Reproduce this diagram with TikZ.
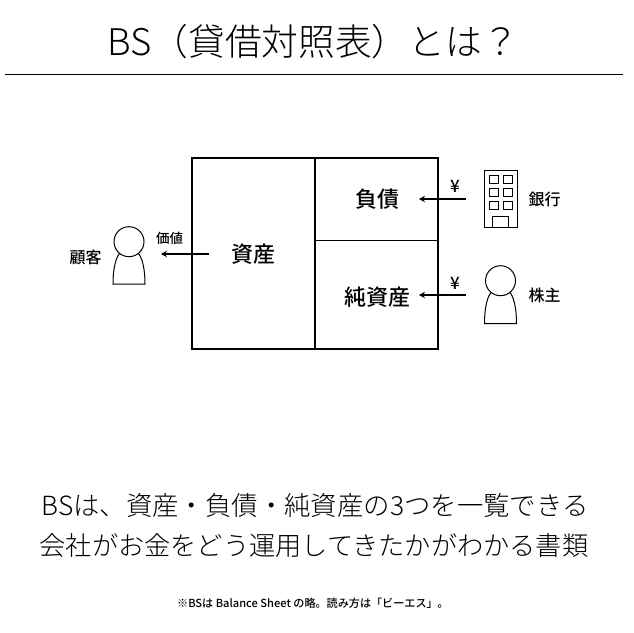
\documentclass[tikz,border=0pt]{standalone}
\usepackage{fontspec}
\setmainfont{Noto Sans CJK JP Medium}
\newfontfamily\lightfont{Noto Sans CJK JP Light}
\usetikzlibrary{positioning, arrows.meta}

\begin{document}
\begin{tikzpicture}[
    x=1pt, y=-1pt,
    box/.style={draw, line width=1.7pt, rectangle, inner sep=0pt, outer sep=0pt, anchor=north west},
    item/.style={inner sep=0pt, font=\fontsize{22}{22}\selectfont},
    lbl/.style={inner sep=0pt, font=\fontsize{16}{16}\selectfont},
    yen/.style={inner sep=0pt, font=\fontsize{17}{17}\selectfont},
    person/.style={draw, line width=1pt, circle, minimum size=30pt, inner sep=0pt, fill=white},
    window/.style={draw, line width=0.8pt, rectangle, minimum width=8.5pt, minimum height=8.5pt, inner sep=0pt},
    arrow/.style={line width=1.1pt,-{Stealth[length=6pt,width=6.5pt,inset=2pt]}}
]
\useasboundingbox (0,0) rectangle (634,632);

\node (title) [inner sep=0pt, font=\lightfont\fontsize{36.7}{36.7}\selectfont] at (313,42) {BS（貸借対照表）とは？};
\coordinate (ruleL) at (5,74);
\coordinate (ruleR) at (623,74);
\draw[line width=1pt] (ruleL) -- (ruleR);

% balance sheet
\node (assets) [box, minimum width=123pt, minimum height=191pt] at (192,158.3) {};
\node (whole) [box, minimum width=122.7pt, minimum height=191pt] at (assets.north east) {};
\coordinate (splitL) at (315,240.5);
\coordinate (splitR) at (437.7,240.5);
\draw[line width=0.7pt] (splitL) -- (splitR);
\node (assetsText) [item] at (253,254) {資産};
\node (debtText) [item] at (377,199) {負債};
\node (equityText) [item] at (377,297) {純資産};

% customer
\draw[line width=1pt] (113,284) .. controls (113,268) and (116,256) .. (121,252) -- (137,252) .. controls (142,256) and (145,268) .. (145,284) -- cycle;
\node (customer) [person] at (129,241.7) {};
\node (customerText) [lbl] at (85.5,257) {顧客};
\coordinate (valueFrom) at (209,254);
\coordinate (valueTo) at (161,254);
\draw[arrow] (valueFrom) -- (valueTo);
\node (valueText) [inner sep=0pt, font=\fontsize{13.5}{13.5}\selectfont] at (169.5,238) {価値};

% bank
\node (bank) [draw, line width=1pt, rectangle, minimum width=33pt, minimum height=57pt, inner sep=0pt, outer sep=0pt, anchor=north west] at (484,170) {};
\foreach \r/\yy in {1/179.5,2/192.5,3/205.5}
  \foreach \c/\xx in {1/494,2/508}
    \node (win\r\c) [window] at (\xx,\yy) {};
\node (door) [draw, line width=0.8pt, rectangle, minimum width=16pt, minimum height=11pt, inner sep=0pt, outer sep=0pt, anchor=south] at (bank.south) {};
\node (bankText) [lbl] at (544.5,199) {銀行};
\coordinate (loanFrom) at (466,199);
\coordinate (loanTo) at (419,199);
\draw[arrow] (loanFrom) -- (loanTo);
\node (loanText) [yen] at (455,186.5) {¥};

% shareholder
\draw[line width=1pt] (484.5,323.5) .. controls (484.5,307) and (487.5,295) .. (492.5,291) -- (508.5,291) .. controls (513.5,295) and (516.5,307) .. (516.5,323.5) -- cycle;
\node (holder) [person] at (500.5,280.7) {};
\node (holderText) [lbl] at (544.5,295) {株主};
\coordinate (stockFrom) at (466,295);
\coordinate (stockTo) at (419,295);
\draw[arrow] (stockFrom) -- (stockTo);
\node (stockText) [yen] at (455,283) {¥};

% captions
\node (line1) [inner sep=0pt, font=\lightfont\fontsize{26.4}{26.4}\selectfont] at (315,506) {BSは、資産・負債・純資産の3つを一覧できる};
\node (line2) [inner sep=0pt, font=\lightfont\fontsize{26.2}{26.2}\selectfont] at (314,546) {会社がお金をどう運用してきたかがわかる書類};
\node (note) [inner sep=0pt, font=\fontsize{11.1}{11.1}\selectfont] at (313,603) {※BSは Balance Sheet の略。読み方は「ビーエス」。};
\end{tikzpicture}
\end{document}
